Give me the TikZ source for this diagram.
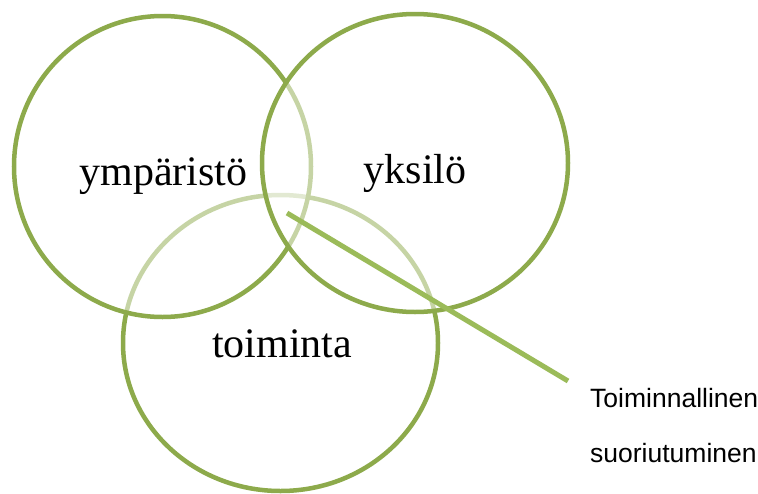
\documentclass[tikz,border=0pt]{standalone}
\usepackage{fontspec}
\setmainfont{Liberation Serif}
\newfontfamily\calloutfont{Liberation Sans}
\usetikzlibrary{shapes.geometric}
\definecolor{ringc}{HTML}{8DAA4B}
\definecolor{calloutc}{HTML}{9BBB59}
\begin{document}
\begin{tikzpicture}[x=1pt,y=-1pt,
  ring/.style={ellipse, draw=ringc, line width=4.5pt, fill=white, fill opacity=0.5, inner sep=0pt, outer sep=0pt},
  biglabel/.style={anchor=base, inner sep=0pt, font=\fontsize{42}{50}\selectfont},
  smalllabel/.style={anchor=base west, inner sep=0pt, font=\calloutfont\fontsize{26.5}{30}\selectfont},
  callout/.style={draw=calloutc, line width=5pt}]
\useasboundingbox (0,0) rectangle (758,493);
\fill[white] (0,0) rectangle (758,493);
% circles, in stacking order
\node[ring, minimum width=315pt, minimum height=296pt] (toim) at (280.5,343) {};
\node[ring, minimum width=297pt, minimum height=301pt] (ymp) at (162.5,166.5) {};
\node[ring, minimum width=306pt, minimum height=298pt] (yks) at (415,163) {};
% labels
\node[biglabel] (lymp) at (163.5,185) {ympäristö};
\node[biglabel] (lyks) at (415,183) {yksilö};
\node[biglabel] (ltoim) at (282,357) {toiminta};
% callout
\coordinate (tip) at (287,213);
\coordinate (tail) at (568,381);
\draw[callout] (tip) -- (tail);
\node[smalllabel] (c1) at (590,407) {Toiminnallinen};
\node[smalllabel] (c2) at (590,462) {suoriutuminen};
\end{tikzpicture}
\end{document}
